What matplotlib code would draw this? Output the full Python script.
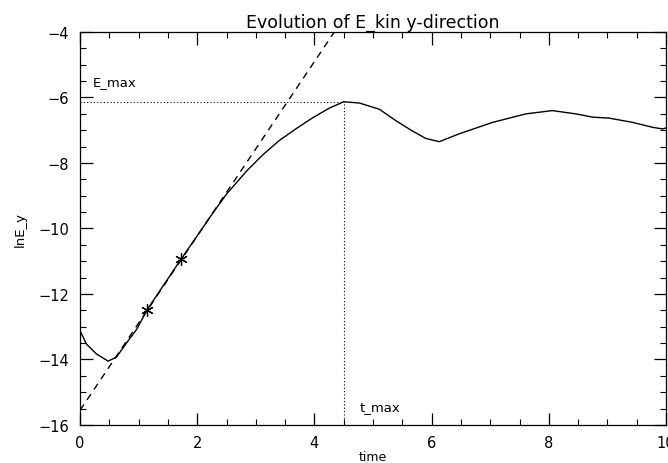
import matplotlib
matplotlib.use("Agg")
import matplotlib.pyplot as plt
from matplotlib.ticker import MultipleLocator

# curve
time = [0.0, 0.11, 0.28, 0.48, 0.62, 0.80, 0.97, 1.14, 1.40, 1.70, 2.04,
        2.27, 2.50, 2.84, 3.12, 3.41, 3.69, 3.97, 4.26, 4.50, 4.77, 5.11,
        5.40, 5.67, 5.90, 6.13, 6.47, 7.04, 7.61, 8.06, 8.46, 8.75, 9.03,
        9.43, 9.77, 9.94, 10.0]
lnE_y = [-13.12, -13.53, -13.83, -14.05, -13.93, -13.48, -13.07, -12.50,
         -11.80, -11.00, -10.12, -9.52, -8.95, -8.25, -7.75, -7.30, -6.95,
         -6.62, -6.32, -6.13, -6.17, -6.36, -6.72, -7.02, -7.25, -7.35,
         -7.11, -6.76, -6.50, -6.40, -6.50, -6.60, -6.63, -6.76, -6.91,
         -6.96, -6.93]

# fit points (asterisks) and growth line through them
fit_t = [1.14, 1.73]
fit_e = [-12.50, -10.93]
line_t = [0.0, 4.34]
line_e = [-15.55, -4.0]

t_max = 4.5
E_max = -6.13

fig = plt.figure(figsize=(6.68, 4.64), dpi=100)
ax = fig.add_axes([0.1198, 0.0819, 0.8772, 0.847])

ax.plot(time, lnE_y, color="black", lw=1.0)
ax.plot(line_t, line_e, color="black", lw=1.0, ls=(0, (5, 4)))
ax.plot(fit_t, fit_e, ls="none", marker=(6, 2, 0), ms=9, mew=0.9, color="black")
ax.plot([0, t_max], [E_max, E_max], color="black", lw=0.8, ls=(0, (1, 2)))
ax.plot([t_max, t_max], [-16, E_max], color="black", lw=0.8, ls=(0, (1, 2)))

ax.text(0.22, -5.52, "E_max", fontsize=9.5, va="center", ha="left")
ax.text(4.77, -15.45, "t_max", fontsize=9.5, va="center", ha="left")

ax.set_xlim(0, 10)
ax.set_ylim(-16, -4)
ax.xaxis.set_major_locator(MultipleLocator(2))
ax.xaxis.set_minor_locator(MultipleLocator(0.5))
ax.yaxis.set_major_locator(MultipleLocator(2))
ax.yaxis.set_minor_locator(MultipleLocator(0.5))
# IDL look: inward ticks on all four sides
ax.tick_params(which="both", direction="in", top=True, right=True,
               labelsize=10.5, pad=8)
ax.tick_params(which="major", length=9, width=0.9)
ax.tick_params(which="minor", length=4.5, width=0.8)
ax.tick_params(axis="x", pad=7)
for s in ax.spines.values():
    s.set_linewidth(0.9)

ax.set_title("Evolution of E_kin y-direction", fontsize=12.5, pad=4)
ax.set_xlabel("time", fontsize=9, labelpad=0)
ax.set_ylabel("lnE_y", fontsize=9.5, labelpad=8)

fig.savefig("out.png", dpi=100)
